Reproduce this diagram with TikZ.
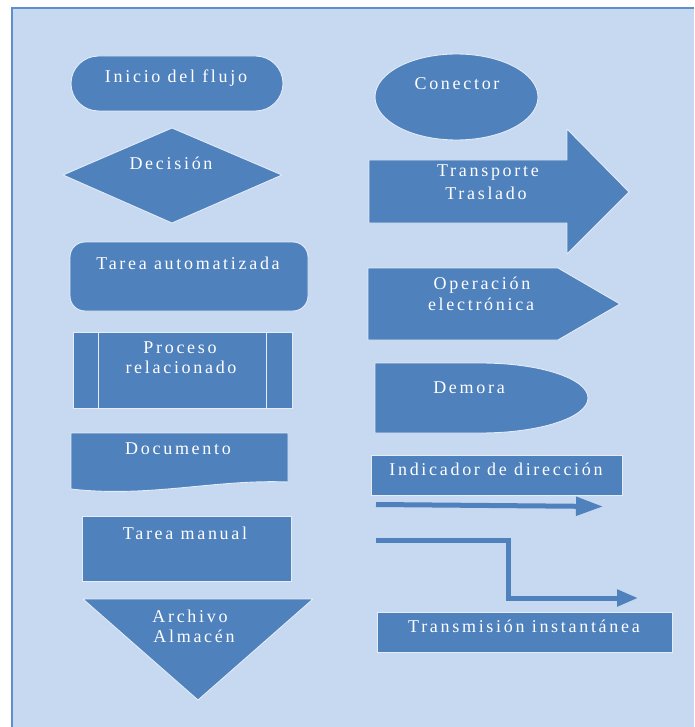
\documentclass[tikz,border=0pt]{standalone}
\usepackage{fontspec}
\usetikzlibrary{arrows.meta}
\newfontfamily\lblfont{Liberation Serif}[LetterSpace=15]
\definecolor{shapeblue}{HTML}{4F81BD}
\definecolor{panelblue}{HTML}{C6D9F1}
\definecolor{panelline}{HTML}{5F8FCB}
\definecolor{rimline}{HTML}{E4ECF7}
\tikzset{
  sym/.style={fill=shapeblue, draw=rimline, line width=0.9pt, line join=round},
  lbl/.style={text=white, anchor=base, inner sep=0pt,
    font=\lblfont\fontsize{18}{21}\selectfont},
  flowline/.style={draw=shapeblue, line width=5pt},
}
\begin{document}
\begin{tikzpicture}[x=1pt,y=-1pt]
\useasboundingbox (0,0) rectangle (694,727);
\fill[white] (0,0) rectangle (694,727);
% panel
\fill[panelblue] (12,8) rectangle (694,727);
\draw[panelline, line width=2pt] (12,727) -- (12,8) -- (694,8);

% ---------- left column ----------
% terminator
\draw[sym, rounded corners=27.5pt] (71,56) rectangle (283,111);
\node[lbl] (inicio) at (176,83) {Inicio del flujo};
% decision
\draw[sym] (63,175) -- (172,128) -- (282,175) -- (172,223) -- cycle;
\node[lbl] (decision) at (171,170) {Decisión};
% automated task
\draw[sym, rounded corners=15pt] (70,242) rectangle (308,311);
\node[lbl] (auto) at (188,269) {Tarea automatizada};
% predefined process
\draw[sym] (73,332) rectangle (292,408);
\draw[rimline, line width=0.9pt] (98,332) -- (98,408) (266,332) -- (266,408);
\node[lbl] (proc1) at (180,353) {Proceso};
\node[lbl] (proc2) at (181,373) {relacionado};
% document
\draw[sym] (71,433) -- (288,433) -- (288,482)
  .. controls (215,479) and (150,498) .. (71,489) -- cycle;
\node[lbl] (doc) at (178,454) {Documento};
% manual task
\draw[sym] (82,516) rectangle (291,581);
\node[lbl] (manual) at (185,539) {Tarea manual};
% storage
\draw[sym] (83,599) -- (313,599) -- (198,700) -- cycle;
\node[lbl] (arch1) at (190,622) {Archivo};
\node[lbl] (arch2) at (194,642) {Almacén};

% ---------- right column ----------
% connector
\draw[sym] (456.5,97) ellipse [x radius=81.5, y radius=43];
\node[lbl] (conector) at (457,90) {Conector};
% transport
\draw[sym] (369,160) -- (567,160) -- (567,129) -- (629,192) -- (567,254)
  -- (567,223) -- (369,223) -- cycle;
\node[lbl] (trans1) at (488,177) {Transporte};
\node[lbl] (trans2) at (486,200) {Traslado};
% electronic operation
\draw[sym] (368,268) -- (558,268) -- (620,304) -- (558,340) -- (368,340) -- cycle;
\node[lbl] (oper1) at (482,289) {Operación};
\node[lbl] (oper2) at (481,310) {electrónica};
% delay
\draw[sym] (375,363) -- (481,363)
  arc [start angle=-90, end angle=90, x radius=107, y radius=35]
  -- (375,433) -- cycle;
\node[lbl] (demora) at (469,393) {Demora};
% direction indicator
\draw[sym] (371,455) rectangle (622,495);
\node[lbl] (indic) at (496,475) {Indicador de dirección};
\coordinate (d1) at (376,504.5);
\coordinate (d2) at (603,506.5);
\draw[flowline, -{Triangle[length=27pt, width=18pt]}] (d1) -- (d2);
% instantaneous transmission
\coordinate (t1) at (376,540);
\coordinate (t2) at (508,540);
\coordinate (t3) at (508,598);
\coordinate (t4) at (638,598);
\draw[flowline, -{Triangle[length=21pt, width=16pt]}] (t1) -- (t2) -- (t3) -- (t4);
\draw[sym] (377,612) rectangle (672,652);
\node[lbl] (transm) at (524,632) {Transmisión instantánea};
\end{tikzpicture}
\end{document}
